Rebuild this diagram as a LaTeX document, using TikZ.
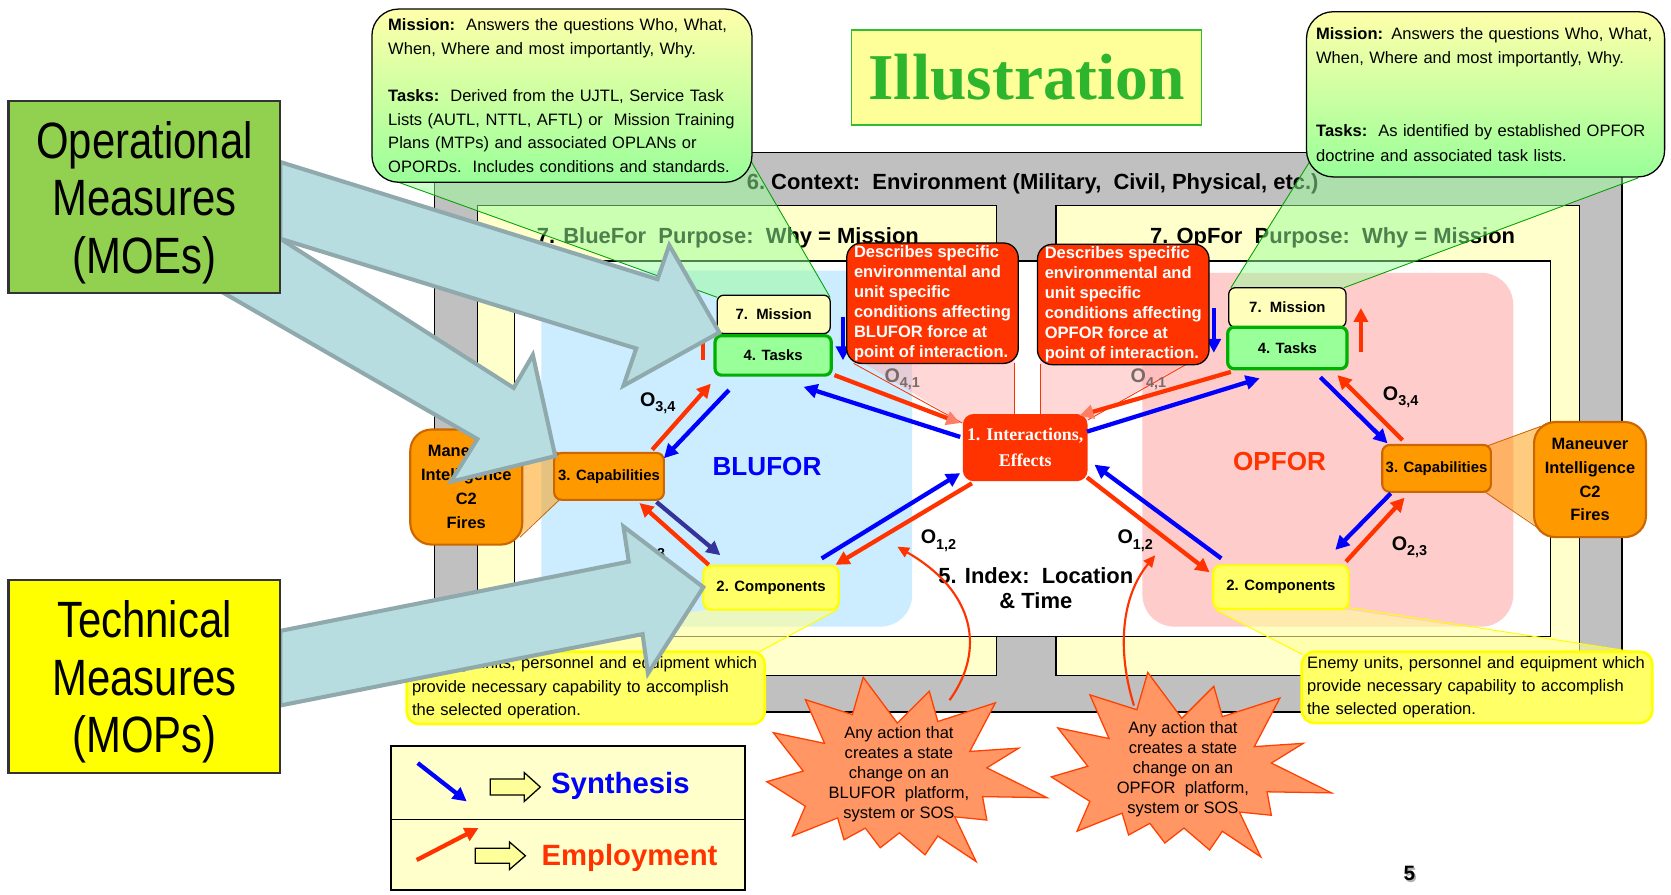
\documentclass[tikz,border=0pt]{standalone}
\usepackage{fontspec}
\setmainfont{Liberation Sans}
\newfontfamily\timesf{Liberation Serif}
\newfontfamily\narrowf[FakeStretch=0.82]{Liberation Sans}
\usetikzlibrary{arrows.meta,calc}
\newcommand\setfs[2]{\fontsize{#1}{#2}\selectfont}
\newcommand\olab[1]{O\raisebox{-5pt}{\setfs{13.5}{14}#1}}
\definecolor{cgray}{HTML}{C0C0C0}
\definecolor{cyelf}{HTML}{FFFFCC}
\definecolor{cblue}{HTML}{CCECFF}
\definecolor{cpink}{HTML}{FFCCCC}
\definecolor{cred}{HTML}{FF3300}
\definecolor{csalmon}{HTML}{FF7F66}
\definecolor{cdblue}{HTML}{333399}
\definecolor{cmis}{HTML}{FFFFBB}
\definecolor{ctask}{HTML}{99FF99}
\definecolor{ctaskb}{HTML}{00B000}
\definecolor{corange}{HTML}{FF9900}
\definecolor{corangeb}{HTML}{CC6600}
\definecolor{ccomp}{HTML}{FFFF66}
\definecolor{ccompb}{HTML}{FFFF00}
\definecolor{cgaf}{HTML}{B7DDE0}
\definecolor{cgab}{HTML}{8FA9AC}
\definecolor{cmoe}{HTML}{92D050}
\definecolor{cmop}{HTML}{FFFF00}
\definecolor{cttl}{HTML}{FFFF99}
\definecolor{cttlb}{HTML}{33BB33}
\definecolor{cttlt}{HTML}{2DB52D}
\definecolor{cgtop}{HTML}{FFFFAA}
\definecolor{cgbot}{HTML}{99FF99}
\definecolor{cgw}{HTML}{99FF99}
\definecolor{cgl}{HTML}{00A000}
\definecolor{cpw}{HTML}{FFB0B0}
\definecolor{cyw}{HTML}{FFFF99}
\definecolor{cstar}{HTML}{FF9664}
\definecolor{cstarb}{HTML}{FF4000}
\definecolor{clabgray}{HTML}{7A6A6A}
\tikzset{
  ra/.style={draw=cred, line width=4pt, -{Triangle[length=13pt,width=13pt]}},
  ras/.style={draw=cred, line width=4pt, -{Triangle[length=13pt,width=13pt,color=csalmon]}},
  ba/.style={draw=blue, line width=4pt, -{Triangle[length=13pt,width=13pt]}},
  dba/.style={draw=cdblue, line width=4pt, -{Triangle[length=13pt,width=13pt]}},
  olabel/.style={font=\bfseries\setfs{18.5}{20}, inner sep=0pt, anchor=base west},
  misbox/.style={draw=black, line width=1.2pt, fill=cmis, rounded corners=6pt, inner sep=0pt, font=\bfseries\setfs{14}{16}},
  taskbox/.style={draw=ctaskb, line width=3pt, fill=ctask, rounded corners=6pt, inner sep=0pt, font=\bfseries\setfs{14}{16}},
  capbox/.style={draw=corangeb, line width=2pt, fill=corange, rounded corners=7pt, inner sep=0pt, font=\bfseries\setfs{14}{16}, minimum height=44pt},
  compbox/.style={draw=ccompb, line width=2pt, fill=ccomp, rounded corners=7pt, inner sep=0pt, font=\bfseries\setfs{14}{16}, minimum width=127pt, minimum height=41pt},
  manbox/.style={draw=corangeb, line width=2pt, fill=corange, rounded corners=20pt, inner sep=0pt, align=center, font=\bfseries\setfs{15.4}{22.4}, minimum width=105pt, minimum height=108pt},
  descbox/.style={draw=black, line width=1.2pt, fill=cred, rounded corners=14pt, inner sep=0pt, align=left, text=white, font=\bfseries\setfs{15.5}{18.77}, minimum width=161pt, minimum height=113pt},
  gcall/.style={draw=black, line width=1.2pt, top color=cgtop, bottom color=cgbot, rounded corners=25pt, align=left, inner ysep=0pt},
  ycall/.style={draw=ccompb, line width=2.5pt, fill=ccomp, rounded corners=12pt, align=left, font=\setfs{15.5}{21.9}, inner ysep=0pt},
  gwedge/.style={fill=cgw, fill opacity=0.5},
  gline/.style={draw=cgl, line width=0.8pt},
  pwedge/.style={fill=cpw, fill opacity=0.5},
  pline/.style={draw=cred, line width=0.8pt},
  owedge/.style={fill=corange, fill opacity=0.5},
  oline/.style={draw=corangeb, line width=0.8pt},
  ywedge/.style={fill=cyw, fill opacity=0.6},
  yline/.style={draw=ccompb, line width=1pt},
  garrow/.style={fill=cgaf, draw=cgab, line width=3.8pt, line join=miter, miter limit=6},
  starshape/.style={fill=cstar, draw=cstarb, line width=1.2pt, line join=miter},
  startext/.style={font=\setfs{15.5}{18.8}, align=center, inner sep=0pt},
  curvearrow/.style={draw=cred, line width=2pt, -{Triangle[length=11pt,width=10pt]}},
  legblk/.style={fill=cttl, draw=black, line width=1.2pt},
  measbox/.style={draw=black!80, line width=2pt, minimum width=255pt, inner sep=0pt},
  meastext/.style={align=center, inner sep=0pt, font=\narrowf\setfs{47.9}{53.8}},
}
\begin{document}
\begin{tikzpicture}[x=1pt,y=-1pt]
\useasboundingbox (0,0) rectangle (1568,839);
\fill[white] (0,0) rectangle (1568,839);

% context frame
\filldraw[fill=cgray, draw=black, line width=1.3pt] (408,143) rectangle (1522,668);
\node[font=\bfseries\setfs{20.6}{24}] (ctx) at (969,172.5) {6.\ Context:\ \ Environment (Military,\ \ Civil, Physical, etc.)};
\filldraw[fill=cyelf, draw=black, line width=1.3pt] (448,193) rectangle (935,634);
\filldraw[fill=cyelf, draw=black, line width=1.3pt] (991,193) rectangle (1482,634);
\node[font=\bfseries\setfs{20.6}{24}] (bpurp) at (683,223) {7. BlueFor\ \ Purpose:\ \ Why = Mission};
\node[font=\bfseries\setfs{20.6}{24}] (opurp) at (1250.5,223) {7. OpFor\ \ Purpose:\ \ Why = Mission};
\filldraw[fill=white, draw=black, line width=1.3pt] (483,245) rectangle (1455,597);

% force regions
\fill[cblue, rounded corners=30pt] (508,254) rectangle (856,588);
\fill[cpink, rounded corners=30pt] (1072,256) rectangle (1420,588);

\node[font=\bfseries\setfs{24.5}{28}, text=blue] (blufor) at (719.7,437.5) {BLUFOR};
\node[font=\bfseries\setfs{24.5}{28}, text=cred] (opfor) at (1200.7,432.8) {OPFOR};
\node[font=\bfseries\setfs{20.6}{23.4}, align=center] (index) at (972,551.5) {5. Index:\ \ Location\\\& Time};

% O labels
\node[olabel] (lb34) at (600.4,381.3) {\olab{3,4}};
\node[olabel] (lo34) at (1297.5,375.6) {\olab{3,4}};
\node[olabel] (lo23) at (1305.8,516.4) {\olab{2,3}};
\node[olabel] (lb23) at (590.8,518.6) {\olab{2,3}};
\node[olabel] (lb12) at (863.8,510.2) {\olab{1,2}};
\node[olabel] (lo12) at (1048.5,510.2) {\olab{1,2}};

% node positions
\coordinate (bmisC) at (726,295);
\coordinate (btaskC) at (725.5,333.5);
\coordinate (bcapC) at (571.5,447);
\coordinate (bcompC) at (723.5,551.5);
\coordinate (interC) at (962,420);
\coordinate (omisC) at (1208,288.5);
\coordinate (otaskC) at (1208,326.5);
\coordinate (ocapC) at (1348,439.5);
\coordinate (ocompC) at (1202,551);

% wedges (under the nodes)
\fill[gwedge] (371,170) -- (704,150) -- (779,279) -- (673,279) -- cycle;
\draw[gline] (371,170) -- (673,279);
\draw[gline] (704,150) -- (779,279);
\fill[gwedge] (1230,150) -- (1537,167) -- (1261,270) -- (1155,270) -- cycle;
\draw[gline] (1230,150) -- (1155,270);
\draw[gline] (1537,167) -- (1261,270);
\fill[owedge] (526,426) -- (484,407) -- (484,506) -- (526,468) -- cycle;
\draw[oline] (526,426) -- (486,407);
\draw[oline] (526,468) -- (488,504);
\fill[owedge] (1394,419) -- (1446,400) -- (1446,496) -- (1394,462) -- cycle;
\draw[oline] (1394,419) -- (1446,400);
\draw[oline] (1394,462) -- (1444,496);
\fill[ywedge] (664,572) -- (786,572) -- (710,613) -- (392,613) -- cycle;
\draw[yline] (786,572) -- (710,613);
\fill[ywedge] (1140,572) -- (1264,572) -- (1548,614) -- (1222,614) -- cycle;
\draw[yline] (1140,572) -- (1222,614);
\draw[yline] (1264,570) -- (1548,614);

% nodes
\node[misbox, minimum width=106pt, minimum height=36pt] (bmis) at (bmisC) {7.\ \ Mission};
\node[taskbox, minimum width=109pt, minimum height=37pt] (btask) at (btaskC) {4. Tasks};
\node[capbox, minimum width=103pt] (bcap) at (bcapC) {3. Capabilities};
\node[compbox] (bcomp) at (bcompC) {2. Components};
\node[misbox, minimum width=110pt, minimum height=37pt] (omis) at (omisC) {7.\ \ Mission};
\node[taskbox, minimum width=112pt, minimum height=39pt] (otask) at (otaskC) {4. Tasks};
\node[capbox, minimum width=102pt] (ocap) at (ocapC) {3. Capabilities};
\node[compbox] (ocomp) at (ocompC) {2. Components};
\node[manbox] (bman) at (437.5,457) {Maneuver\\Intelligence\\C2\\Fires};
\node[manbox] (oman) at (1492,450) {Maneuver\\Intelligence\\C2\\Fires};

% arrows BLUFOR
\draw[ra] ($(bcap.center)+(40.5,-25)$) -- ($(btask.center)+(-58.5,26.5)$);
\draw[ba] ($(btask.center)+(-41.5,32.5)$) -- ($(bcap.center)+(51.5,-17)$);
\draw[dba] ($(bcap.center)+(44.5,24)$) -- ($(bcomp.center)+(-47.5,-30.5)$);
\draw[ra] ($(bcomp.center)+(-58.5,-21.5)$) -- ($(bcap.center)+(28.5,25)$);
\draw[ba] ($(bmis.center)+(65,2)$) -- ($(btask.center)+(65.5,4.5)$);
\draw[ra] ($(btask.center)+(-65.5,4.5)$) -- ($(bmis.center)+(-66,5)$);
% arrows OPFOR
\draw[ba] ($(otask.center)+(31,27.5)$) -- ($(ocap.center)+(-46,-23.5)$);
\draw[ra] ($(ocap.center)+(-32,-26.5)$) -- ($(otask.center)+(47,25.5)$);
\draw[ba] ($(ocap.center)+(-43,23.5)$) -- ($(ocomp.center)+(51,-35)$);
\draw[ra] ($(ocomp.center)+(61,-24)$) -- ($(ocap.center)+(-30,27.5)$);
\draw[ba] ($(omis.center)+(-69,0.5)$) -- ($(otask.center)+(-69,4.5)$);
\draw[ra] ($(otask.center)+(69,3.5)$) -- ($(omis.center)+(69,0.5)$);

% red description wedges
\fill[pwedge] (801,335) -- (952,335) -- (952,389) -- (903,397) -- cycle;
\draw[pline] (801,341) -- (903,397);
\draw[pline] (952,341) -- (952,389);
\fill[pwedge] (976,338) -- (1116,338) -- (1021,394) -- (976,389) -- cycle;
\draw[pline] (976,342) -- (976,389);
\draw[pline] (1113,342) -- (1021,394);
\node[olabel, text=clabgray] (lb41) at (829.8,358.6) {\olab{4,1}};
\node[olabel, text=clabgray] (lo41) at (1060.8,358.6) {\olab{4,1}};

\node[draw=none, fill=cred, rounded corners=10pt, inner sep=0pt, minimum width=117pt, minimum height=63pt, align=center, text=white, font=\timesf\bfseries\setfs{16.8}{24.5}] (inter) at (interC) {1. Interactions,\\Effects};

% arrows to / from interactions
\draw[ras] ($(btask.center)+(57.5,18.5)$) -- ($(inter.center)+(-61,-23)$);
\draw[ba] ($(inter.center)+(-61,-10)$) -- ($(btask.center)+(28.5,29.5)$);
\draw[ba] ($(bcomp.center)+(47.5,-27.5)$) -- ($(inter.center)+(-61,24)$);
\draw[ra] ($(inter.center)+(-50,33.5)$) -- ($(bcomp.center)+(60.5,-21.5)$);
\draw[ba] ($(inter.center)+(58,-15)$) -- ($(otask.center)+(-26,28.5)$);
\draw[ras] ($(otask.center)+(-53,22.5)$) -- ($(inter.center)+(51,-30)$);
\draw[ra] ($(inter.center)+(58,28)$) -- ($(ocomp.center)+(-67,-14)$);
\draw[ba] ($(ocomp.center)+(-56,-27)$) -- ($(inter.center)+(65,16)$);

% callouts
\node[gcall, text width=326pt, inner xsep=15.3pt, minimum height=162.5pt, font=\setfs{15.5}{22.15}] (ctl) at (527.3,89.75)
 {\textbf{Mission:}\ \ Answers the questions Who, What,\\When, Where and most importantly, Why.\\\mbox{}\\\textbf{Tasks:}\ \ Derived from the UJTL, Service Task\\Lists (AUTL, NTTL, AFTL) or\ \ Mission Training\\Plans (MTPs) and associated OPLANs or\\OPORDs.\ \ Includes conditions and standards.};
\node[gcall, text width=318pt, inner xsep=9pt, minimum height=155pt, font=\setfs{15.5}{22.9}] (ctr) at (1394,88.5)
 {\textbf{Mission:} Answers the questions Who, What,\\When, Where and most importantly, Why.\\\mbox{}\\\mbox{}\\\textbf{Tasks:}\ \ As identified by established OPFOR\\doctrine and associated task lists.};
\node[ycall, text width=326pt, inner xsep=5pt, minimum height=68pt] (cbl) at (549.6,645.5)
 {Friendly units, personnel and equipment which\\provide necessary capability to accomplish\\the selected operation.};
\node[ycall, text width=319pt, inner xsep=5pt, minimum height=67pt] (cbr) at (1386,645)
 {Enemy units, personnel and equipment which\\provide necessary capability to accomplish\\the selected operation.};
\node[descbox] (rdl) at (875,284.5) {Describes specific\\environmental and\\unit specific\\conditions affecting\\BLUFOR force at\\point of interaction.};
\node[descbox] (rdr) at (1054,285.7) {Describes specific\\environmental and\\unit specific\\conditions affecting\\OPFOR force at\\point of interaction.};

% starbursts
\begin{scope}[shift={(-267,4.5)}]
\draw[starshape] (1077,631) -- (1109,674) -- (1139,644) -- (1147,672.5) -- (1201,655) -- (1177,700.6) -- (1223,697.5) -- (1193,716) -- (1249.5,744) -- (1189,743) -- (1193,765) -- (1163,762) -- (1183,804) -- (1147,780) -- (1135,797.6) -- (1111,777) -- (1093,791) -- (1079,772.6) -- (1059,783.5) -- (1053,763) -- (1010.6,780) -- (1022.7,752) -- (986.5,729) -- (1020.7,719) -- (992.6,683) -- (1040.7,693) -- (1022.7,652) -- (1066.8,666) -- cycle;
\end{scope}
\draw[starshape] (1077,631) -- (1109,674) -- (1139,644) -- (1147,672.5) -- (1201,655) -- (1177,700.6) -- (1223,697.5) -- (1193,716) -- (1249.5,744) -- (1189,743) -- (1193,765) -- (1163,762) -- (1183,804) -- (1147,780) -- (1135,797.6) -- (1111,777) -- (1093,791) -- (1079,772.6) -- (1059,783.5) -- (1053,763) -- (1010.6,780) -- (1022.7,752) -- (986.5,729) -- (1020.7,719) -- (992.6,683) -- (1040.7,693) -- (1022.7,652) -- (1066.8,666) -- cycle;
\node[startext] (sl) at (843.5,726.5) {Any action that\\creates a state\\change on an\\BLUFOR\ \ platform,\\system or SOS};
\node[startext] (sr) at (1110,722) {Any action that\\creates a state\\change on an\\OPFOR\ \ platform,\\system or SOS};
\coordinate (slTip) at (891,657);
\coordinate (slEnd) at (842,513);
\coordinate (srTip) at (1064,662);
\coordinate (srEnd) at (1084,521);
\draw[curvearrow] (slTip) .. controls (925,610) and (915,555) .. (slEnd);
\draw[curvearrow] (srTip) .. controls (1048,610) and (1052,560) .. (srEnd);

% big block arrows
\filldraw[garrow] (263,152) -- (617,262) -- (628,230) -- (675,312) -- (585,362) -- (597,327) -- (263,224) -- cycle;
\filldraw[garrow] (263,224) -- (482,364) -- (500,333) -- (521,428) -- (423,452) -- (448,412) -- (210,275) -- cycle;
\filldraw[garrow] (263,592) -- (590,527) -- (585,494) -- (660,551) -- (608,632) -- (603,595) -- (263,662) -- cycle;

% measure boxes
\node[measbox, fill=cmoe, minimum height=180pt] (moe) at (135.5,185) {};
\node[meastext] (moet) at (135.5,190) {Operational\\Measures\\(MOEs)};
\node[measbox, fill=cmop, minimum height=181pt] (mop) at (135.5,635) {};
\node[meastext] (mopt) at (135.5,640) {Technical\\Measures\\(MOPs)};

% title
\node[draw=cttlb, line width=1.2pt, fill=cttl, minimum width=328.4pt, minimum height=89pt, inner sep=0pt, text=cttlt, font=\timesf\bfseries\setfs{61.4}{64}] (title) at (963.4,72.75) {Illustration};

% legend
\filldraw[fill=cyelf, draw=black, line width=1.3pt] (367,700) rectangle (699,835);
\draw[black, line width=1.3pt] (367,769) -- (699,769);
\coordinate (lsA) at (392,716);
\coordinate (lsB) at (438,752);
\coordinate (leA) at (391,807);
\coordinate (leB) at (449,777);
\draw[ba] (lsA) -- (lsB);
\draw[ra] (leA) -- (leB);
\filldraw[legblk] (460,731) -- (492,731) -- (492,725) -- (507,738.5) -- (492,752) -- (492,746) -- (460,746) -- cycle;
\filldraw[legblk] (446,796) -- (478,796) -- (478,790) -- (493,803) -- (478,816) -- (478,810) -- (446,810) -- cycle;
\node[anchor=base west, inner sep=0pt, text=blue, font=\bfseries\setfs{27.5}{30}] (syn) at (517,744.4) {Synthesis};
\node[anchor=base west, inner sep=0pt, text=cred, font=\bfseries\setfs{27.5}{30}] (emp) at (508,812.6) {Employment};

% page number
\node[text=black!30, font=\bfseries\setfs{19.5}{20}] (pgs) at (1324,821.5) {5};
\node[font=\bfseries\setfs{19.5}{20}] (pg) at (1322.5,820) {5};
\end{tikzpicture}
\end{document}
